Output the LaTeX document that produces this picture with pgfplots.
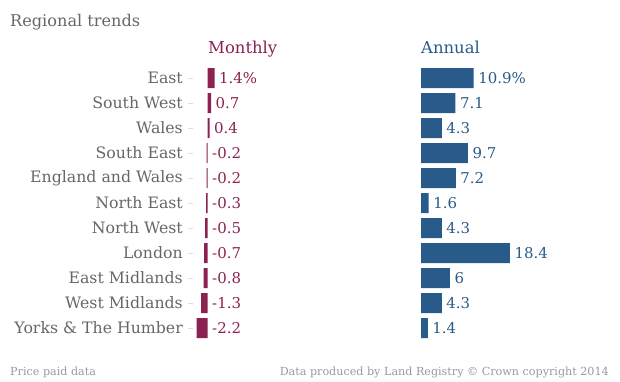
\documentclass[border=0pt]{standalone}
\usepackage{fontspec}
\setmainfont{DejaVu Serif}
\usepackage{pgfplots}
\pgfplotsset{compat=1.18}
\definecolor{maroon}{HTML}{8B2252}
\definecolor{qblue}{HTML}{295B8A}
\definecolor{tgray}{HTML}{666666}
\definecolor{fgray}{HTML}{999999}
\definecolor{tickgray}{HTML}{DDDDDD}
\begin{document}
\begin{tikzpicture}[x=1bp,y=1bp]
\path[use as bounding box] (0,0) rectangle (620,381);
\node[anchor=base west,inner sep=0,text=tgray,font=\fontsize{16.2}{18}\selectfont] at (10,355) {Regional trends};
\node[anchor=base west,inner sep=0,text=maroon,font=\fontsize{16.5}{18}\selectfont] at (208,328) {Monthly};
\node[anchor=base west,inner sep=0,text=qblue,font=\fontsize{16.5}{18}\selectfont] at (421,328) {Annual};
\node[anchor=base west,inner sep=0,text=fgray,font=\fontsize{11.2}{13}\selectfont] at (10,5.5) {Price paid data};
\node[anchor=base east,inner sep=0,text=fgray,font=\fontsize{11.2}{13}\selectfont] at (609,5.5) {Data produced by Land Registry © Crown copyright 2014};
% Monthly
\begin{axis}[
  at={(207.5bp,303bp)}, anchor=origin,
  x=5bp, y=25bp, y dir=reverse,
  xmin=-2.9, xmax=2, ymin=-0.5, ymax=10.5,
  hide x axis, axis line style={draw=none},
  clip=false,
  ytick={0,...,10},
  yticklabels={East,South West,Wales,South East,England and Wales,North East,North West,London,East Midlands,West Midlands,Yorks \& The Humber},
  ytick pos=left, tick align=outside, major tick length=5bp,
  y tick style={draw=tickgray,line width=0.8bp},
  yticklabel style={text=tgray,font=\fontsize{15.8}{18}\selectfont,anchor=east,inner sep=0pt,xshift=-5bp},
]
\addplot[xbar, bar width=20bp, bar shift=0pt, fill=maroon, draw=none] coordinates {
(1.4,0) (0.7,1) (0.4,2) (-0.2,3) (-0.2,4) (-0.3,5) (-0.5,6) (-0.7,7) (-0.8,8) (-1.3,9) (-2.2,10)};
\addplot[draw=none, mark=none, point meta=explicit symbolic, nodes near coords,
  every node near coord/.append style={anchor=west,inner sep=0pt,xshift=4.5bp,text=maroon,font=\fontsize{15}{17}\selectfont}] coordinates {
(1.4,0) [1.4\%] (0.7,1) [0.7] (0.4,2) [0.4] (0,3) [-0.2] (0,4) [-0.2] (0,5) [-0.3] (0,6) [-0.5] (0,7) [-0.7] (0,8) [-0.8] (0,9) [-1.3] (0,10) [-2.2]};
\end{axis}
% Annual
\begin{axis}[
  at={(421bp,303bp)}, anchor=origin,
  x=4.83bp, y=25bp, y dir=reverse,
  xmin=0, xmax=20, ymin=-0.5, ymax=10.5,
  hide x axis, hide y axis,
  clip=false,
]
\addplot[xbar, bar width=20bp, bar shift=0pt, fill=qblue, draw=none,
  point meta=explicit symbolic, nodes near coords,
  every node near coord/.append style={anchor=west,inner sep=0pt,xshift=4.5bp,text=qblue,font=\fontsize{15}{17}\selectfont}] coordinates {
(10.9,0) [10.9\%] (7.1,1) [7.1] (4.3,2) [4.3] (9.7,3) [9.7] (7.2,4) [7.2] (1.6,5) [1.6] (4.3,6) [4.3] (18.4,7) [18.4] (6,8) [6] (4.3,9) [4.3] (1.4,10) [1.4]};
\end{axis}
\end{tikzpicture}
\end{document}
